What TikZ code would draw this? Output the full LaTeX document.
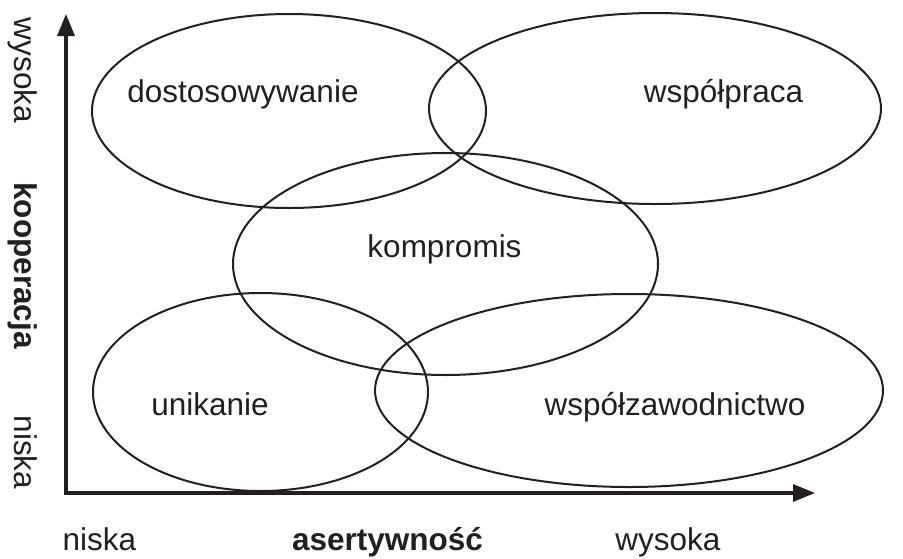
\documentclass[tikz,border=0pt]{standalone}
\usepackage{fontspec}
\setmainfont{Liberation Sans}
\usetikzlibrary{shapes.geometric,arrows.meta}
\definecolor{ink}{RGB}{35,31,32}
\begin{document}
\begin{tikzpicture}[x=1pt,y=-1pt,
  zone/.style={ellipse, draw=ink, line width=2pt, inner sep=0pt},
  word/.style={anchor=base, text=ink, font=\fontsize{31.5}{36}\selectfont},
  boldword/.style={word, font=\fontsize{31.5}{36}\selectfont\bfseries},
  axis/.style={draw=ink, line width=3.3pt, line join=miter,
    {Triangle[length=22pt,width=17pt]}-{Triangle[length=22pt,width=17pt]}}]
  \useasboundingbox (0,0) rectangle (903,558);

  % axes
  \coordinate (ytip) at (66,14);
  \coordinate (origin) at (66,493);
  \coordinate (xtip) at (815,493);
  \draw[axis] (ytip) -- (origin) -- (xtip);

  % conflict-handling styles as overlapping regions
  \node[zone, minimum width=394pt, minimum height=194pt] (dost) at (289,111) {};
  \node[zone, minimum width=452pt, minimum height=191pt] (wspol) at (655,108.5) {};
  \node[zone, minimum width=425pt, minimum height=222pt] (komp) at (445.5,264) {};
  \node[zone, minimum width=335pt, minimum height=198pt] (unik) at (260.5,392) {};
  \node[zone, minimum width=508pt, minimum height=193pt] (rywal) at (629,390.5) {};

  % region labels
  \node[word] (tdost) at (243,102) {dostosowywanie};
  \node[word] (twspol) at (723.5,102) {współpraca};
  \node[word] (tkomp) at (444.5,257) {kompromis};
  \node[word] (tunik) at (210,415) {unikanie};
  \node[word] (trywal) at (675,415) {współzawodnictwo};

  % horizontal axis labels
  \node[word] (xlow) at (99.5,550) {niska};
  \node[boldword] (xname) at (387.5,550) {asertywność};
  \node[word] (xhigh) at (668,550) {wysoka};

  % vertical axis labels
  \node[word, rotate=-90] (yhigh) at (15,70.5) {wysoka};
  \node[boldword, rotate=-90] (yname) at (15,265.5) {kooperacja};
  \node[word, rotate=-90] (ylow) at (15,452.5) {niska};
\end{tikzpicture}
\end{document}
